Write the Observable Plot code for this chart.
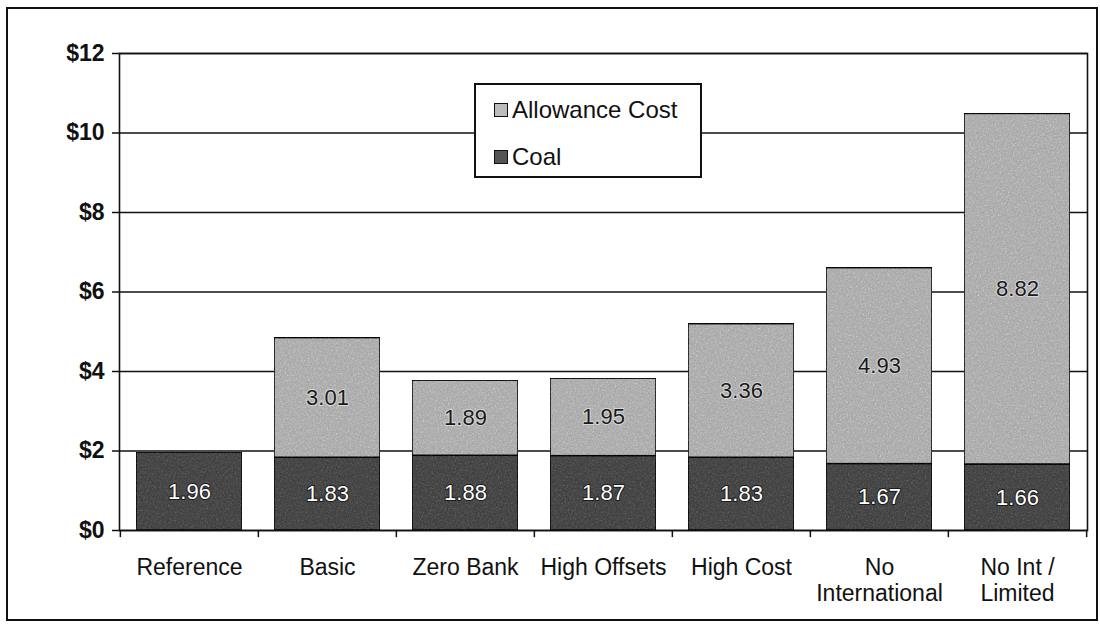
<!DOCTYPE html>
<html><head><meta charset="utf-8">
<script src="https://cdn.jsdelivr.net/npm/d3@7"></script>
<script src="https://cdn.jsdelivr.net/npm/@observablehq/plot@0.6"></script>
<style>
body{margin:0;background:#fff;font-family:"Liberation Sans",Arial,sans-serif;color:#111;}
#wrap{position:relative;width:1100px;height:627px;overflow:hidden;background:#fff;}
#frame{position:absolute;left:6px;top:7px;width:1092px;height:614px;border:2px solid #111;box-sizing:border-box;}
#chart{position:absolute;left:0;top:0;}
#legend{position:absolute;left:474px;top:83px;width:228px;height:95px;border:2px solid #111;background:#fff;box-sizing:border-box;z-index:2;}
.item{position:absolute;left:18px;height:30px;display:flex;align-items:center;font-size:24px;}
.sw{width:14px;height:14px;border:1.5px solid #111;box-sizing:border-box;margin-right:4px;}
</style>
</head><body>
<div id="wrap">
  <div id="frame"></div>
  <div id="chart"></div>
  <div id="legend"></div>
</div>
<script>
const categories = ["Reference","Basic","Zero Bank","High Offsets","High Cost","No International","No Int / Limited"];
const xTickLabels = ["Reference","Basic","Zero Bank","High Offsets","High Cost","No\nInternational","No Int /\nLimited"];
const coal = [1.96,1.83,1.88,1.87,1.83,1.67,1.66];
const allowance = [null,3.01,1.89,1.95,3.36,4.93,8.82];
const seriesNames = ["Allowance Cost","Coal"];
const seriesColors = ["#bcbcbc","#545454"];
const yTicks = [0,2,4,6,8,10,12];

const rows = [];
categories.forEach((c,i)=>rows.push({cat:c, series:"Coal", value:coal[i]}));
categories.forEach((c,i)=>{ if(allowance[i]!=null) rows.push({cat:c, series:"Allowance Cost", value:allowance[i]}); });

const coalLabels = categories.map((c,i)=>({cat:c, value:coal[i], mid:coal[i]/2}));
const allowLabels = categories.map((c,i)=>allowance[i]==null?null:({cat:c, value:allowance[i], mid:coal[i]+allowance[i]/2})).filter(d=>d);

const W=1100,H=627,mL=119,mR=13,mT=53,mB=97;
const step=(W-mL-mR)/categories.length;
const fmt=d3.format(".2f");

const chart = Plot.plot({
  width:W, height:H,
  marginLeft:mL, marginRight:mR, marginTop:mT, marginBottom:mB,
  style:{fontFamily:"Liberation Sans, Arial, sans-serif", color:"#111", background:"transparent", overflow:"visible"},
  x:{domain:categories, paddingInner:0.23, paddingOuter:0.115, label:null},
  y:{domain:[0,12], label:null},
  color:{domain:seriesNames, range:seriesColors},
  marks:[
    Plot.ruleY(yTicks,{stroke:"#111", strokeWidth:1.6}),
    Plot.barY(rows,{x:"cat", y:"value", fill:"series", stroke:"#111", strokeWidth:1.5, className:"grainbar"}),
    Plot.text(coalLabels,{x:"cat", y:"mid", text:d=>fmt(d.value), fill:"#fff", stroke:"#1a1a1a", strokeWidth:2, fontSize:22}),
    Plot.text(allowLabels,{x:"cat", y:"mid", text:d=>fmt(d.value), fill:"#1a1a1a", stroke:"#d8d8d8", strokeWidth:2, fontSize:22}),
    Plot.frame({stroke:"#111", strokeWidth:1.6}),
    Plot.ruleX(categories,{x:d=>d, dx:-step/2, y1:0, y2:-0.18, stroke:"#111", strokeWidth:1.5}),
    Plot.ruleX(categories.slice(-1),{x:d=>d, dx:step/2, y1:0, y2:-0.18, stroke:"#111", strokeWidth:1.5}),
    Plot.axisX({tickSize:0, tickPadding:27, fontSize:23, lineHeight:1.1, tickFormat:d=>xTickLabels[categories.indexOf(d)], label:null}),
    Plot.axisY({ticks:yTicks, tickSize:7, tickPadding:8, strokeWidth:1.5, fontSize:23, fontWeight:"bold", tickFormat:d=>"$"+d, label:null})
  ]
});
// grain texture filter, to echo the scanned look of the bars
const svg = d3.select(chart);
const defs = svg.insert("defs", ":first-child");
const f = defs.append("filter").attr("id","grain").attr("x",0).attr("y",0).attr("width","100%").attr("height","100%")
  .attr("color-interpolation-filters","sRGB");
f.append("feTurbulence").attr("type","fractalNoise").attr("baseFrequency",0.6).attr("numOctaves",2).attr("seed",4).attr("result","noise");
f.append("feColorMatrix").attr("in","noise").attr("type","saturate").attr("values",0).attr("result","gray");
f.append("feComposite").attr("in","SourceGraphic").attr("in2","gray").attr("operator","arithmetic")
  .attr("k1",0).attr("k2",1).attr("k3",0.35).attr("k4",-0.14).attr("result","mix");
f.append("feComposite").attr("in","mix").attr("in2","SourceGraphic").attr("operator","in");
svg.selectAll(".grainbar rect").attr("filter","url(#grain)");
document.getElementById("chart").appendChild(chart);

const legend = document.getElementById("legend");
seriesNames.forEach((s,i)=>{
  const it=document.createElement("div");
  it.className="item";
  it.style.top=(i===0?10:57)+"px";
  const sw=document.createElement("div");
  sw.className="sw"; sw.style.background=seriesColors[i];
  const t=document.createElement("span"); t.textContent=s;
  it.appendChild(sw); it.appendChild(t);
  legend.appendChild(it);
});
</script>
</body></html>
